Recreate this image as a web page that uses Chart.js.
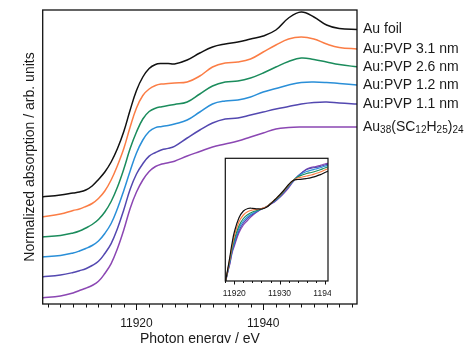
<!DOCTYPE html>
<html>
<head>
  <meta charset="UTF-8">
  <title>Au L3-edge XANES</title>
  <script src="https://cdn.jsdelivr.net/npm/chart.js"></script>
  <style>
    body {
      margin: 0;
      background: #ffffff;
    }
    .wrap {
      position: relative;
      width: 469px;
      height: 343px;
      overflow: hidden;
    }
    #insetChart {
      position: absolute;
      left: 220px;
      top: 153px;
    }
  </style>
</head>
<body>
  <div class="wrap">
    <canvas id="mainChart" width="469" height="343"></canvas>
    <canvas id="insetChart" width="111" height="160"></canvas>
  </div>

  <script>
    // photon energy (eV) for the main panel
    const energy = [11905, 11908, 11910, 11911, 11912, 11913, 11914, 11915, 11916, 11917,
      11918, 11919, 11920, 11921, 11922, 11923, 11924, 11925, 11926, 11928,
      11930, 11932, 11934, 11936, 11938, 11940, 11942, 11944, 11946, 11948,
      11950, 11952, 11955];

    // offset spectra, arb. units
    const auFoil = [107, 109, 111, 112, 114, 118, 124.5, 132, 142, 155.5,
      172.5, 194, 213.5, 227, 235.5, 239.5, 240.5, 240.5, 240, 244,
      251, 257, 260, 262, 265, 268, 274, 286, 292, 287,
      279, 275.5, 274.5];
    const pvp31 = [87, 90, 93.5, 95, 97.5, 100.5, 105.5, 113, 124, 138.5,
      155.5, 177, 196, 208.5, 215, 218.5, 220, 220.5, 221, 222,
      228, 237, 241, 242, 245, 252, 259, 265, 267, 265,
      260, 256.5, 255];
    const pvp26 = [67, 68.5, 71, 73, 76, 79.5, 84.5, 92, 102.5, 117,
      135, 155.5, 172, 185, 192.5, 195.8, 197.3, 198.5, 199.5, 202,
      210, 218, 222, 223, 226, 231, 237, 242.5, 246, 244.5,
      242, 239.5, 237];
    const pvp12 = [47, 48.5, 51, 53, 55.5, 58.5, 63, 70.5, 80.5, 95.5,
      113.5, 133, 151, 164, 172.5, 176.4, 177.5, 178.5, 180, 184,
      192, 200, 203, 204, 207, 212, 215.5, 219, 221.5, 222,
      221.5, 220.5, 219];
    const pvp11 = [27, 29, 31.5, 33.3, 35.3, 38.5, 42.7, 50.5, 60.4, 75.5,
      94.2, 114.8, 130, 140.3, 147.9, 151.5, 154.3, 155.6, 157.7, 166,
      174, 181, 185, 186, 189, 192, 195, 197.5, 200, 201.5,
      202, 201, 200];
    const au38 = [6, 8, 11, 13.5, 15.8, 18.5, 22.7, 30.5, 40.4, 55.5,
      74.2, 95.6, 112, 124, 132.5, 137.5, 140, 141.3, 142.8, 148,
      152.5, 157, 160, 163, 167, 171, 175, 176.5, 177, 177,
      177, 177, 177];

    // inset: edge region without offsets
    const insetEnergy = [11918, 11918.5, 11919, 11919.5, 11920, 11921, 11922, 11923, 11924, 11925,
      11926, 11927, 11928, 11929, 11930, 11931, 11932, 11933, 11934, 11935,
      11936, 11937, 11938, 11939, 11940, 11941];
    const insetFoil = [-2, 11, 24, 38, 49, 63, 70, 72.5, 72.7, 72.2, 72, 73.5, 77, 81.5, 86, 91,
      96.5, 100.5, 101.5, 101.8, 102.5, 103.4, 104.6, 106.4, 108.5, 110.5];
    const insetPvp31 = [-2, 10, 22, 35, 45, 59, 66, 69.5, 71, 71.5, 72.5, 74, 77.5, 81.5, 85.5, 90.5,
      96, 100.5, 103, 104, 105, 106, 107.5, 109, 111, 113];
    const insetPvp26 = [-2, 9.5, 20.5, 32.5, 41.5, 55, 62.5, 66.5, 69, 70.5, 72, 74, 77.5, 81, 85, 90,
      95.5, 100.5, 104, 106, 107.5, 108.5, 109.8, 111.3, 113, 114.5];
    const insetPvp12 = [-2, 9, 19.5, 31, 39, 52.5, 60, 64.5, 67.5, 70, 72, 74, 77.2, 80.5, 84.5, 89.5,
      95, 100, 104.5, 107.5, 109.5, 110.8, 112, 113.3, 114.8, 116];
    const insetPvp11 = [-2, 8.5, 18, 29.5, 37, 50, 58, 63, 66.5, 69.5, 72, 74, 77, 80, 84, 89,
      94.2, 99.7, 104.7, 108.5, 111.5, 112.8, 113.6, 114.7, 116, 117.3];
    const insetAu38 = [-2, 8, 17, 28, 35, 48, 56, 61, 65.5, 69, 72, 74, 76.8, 79.6, 83.5, 88,
      93.2, 99.3, 104.5, 108.5, 112, 113.6, 114.5, 115.7, 117, 118];

    const seriesNames = ['Au foil', 'Au:PVP 3.1 nm', 'Au:PVP 2.6 nm', 'Au:PVP 1.2 nm', 'Au:PVP 1.1 nm',
      'Au_{38}(SC_{12}H_{25})_{24}'];
    const mainSeries = [auFoil, pvp31, pvp26, pvp12, pvp11, au38];
    const insetSeries = [insetFoil, insetPvp31, insetPvp26, insetPvp12, insetPvp11, insetAu38];
    const colors = ['#111111', '#fb7d45', '#1b8c5c', '#2a8fd8', '#5348b0', '#8b47b3'];

    const FONT = '"Liberation Sans", Arial, Helvetica, sans-serif';
    const TEXT = '#1a1a1a';

    // draw a label, text inside _{...} becomes a subscript
    function drawRich(ctx, text, x, y) {
      text.split(/(_\{[^}]*\})/).forEach(p => {
        if (!p) return;
        const sub = p.startsWith('_{');
        const s = sub ? p.slice(2, -1) : p;
        ctx.font = (sub ? '10px ' : '14px ') + FONT;
        ctx.fillText(s, x, sub ? y + 3.5 : y);
        x += ctx.measureText(s).width;
      });
    }

    // box around the plot area + outward ticks (longer on labelled ones)
    const frameAndTicks = {
      id: 'frameAndTicks',
      beforeDraw(chart, args, opts) {
        if (!opts.fill) return;
        const a = chart.chartArea;
        chart.ctx.save();
        chart.ctx.fillStyle = opts.fill;
        chart.ctx.fillRect(a.left, a.top, a.right - a.left, a.bottom - a.top);
        chart.ctx.restore();
      },
      afterDraw(chart, args, opts) {
        const {ctx, chartArea: a, scales: {x}} = chart;
        ctx.save();
        ctx.strokeStyle = '#111';
        ctx.lineWidth = opts.lineWidth;
        ctx.strokeRect(a.left, a.top, a.right - a.left, a.bottom - a.top);
        ctx.lineWidth = 1;
        x.ticks.forEach(t => {
          const px = Math.round(x.getPixelForValue(t.value)) + 0.5;
          const len = t.value % opts.majorStep === 0 ? opts.majorLen : opts.minorLen;
          ctx.beginPath();
          ctx.moveTo(px, a.bottom);
          ctx.lineTo(px, a.bottom + len);
          ctx.stroke();
        });
        ctx.restore();
      }
    };

    const endLabels = {
      id: 'endLabels',
      afterDraw(chart) {
        const {ctx, chartArea: a, scales: {y}} = chart;
        ctx.save();
        ctx.fillStyle = TEXT;
        ctx.textAlign = 'left';
        ctx.textBaseline = 'middle';
        chart.data.datasets.forEach((ds, i) => {
          const py = y.getPixelForValue(ds.data[ds.data.length - 1].y);
          drawRich(ctx, seriesNames[i], a.right + 6, py);
        });
        ctx.restore();
      }
    };

    function makeDatasets(xs, list, width) {
      return list.map((vals, i) => ({
        label: seriesNames[i],
        data: vals.map((v, k) => ({x: xs[k], y: v})),
        borderColor: colors[i],
        borderWidth: width,
        pointRadius: 0,
        fill: false,
        tension: 0.4
      }));
    }

    // one tick every 2 eV inside the axis range
    const evenTicks = s => {
      const out = [];
      for (let v = Math.ceil(s.min / 2) * 2; v <= s.max; v += 2) out.push({ value: v });
      s.ticks = out;
    };

    new Chart(document.getElementById('mainChart'), {
      type: 'line',
      data: { datasets: makeDatasets(energy, mainSeries, 1.5) },
      options: {
        responsive: false,
        animation: false,
        layout: { padding: { top: 10, right: 112, left: 0, bottom: 0 } },
        plugins: {
          legend: { display: false },
          tooltip: { enabled: false },
          frameAndTicks: { lineWidth: 1.3, majorStep: 20, majorLen: 6, minorLen: 3.5 }
        },
        scales: {
          x: {
            type: 'linear',
            min: 11905.2,
            max: 11954.8,
            grid: { display: false, drawTicks: false },
            border: { display: false },
            afterBuildTicks: evenTicks,
            afterFit: s => { s.height = 39; s.paddingLeft = 0; s.paddingRight = 0; },
            ticks: {
              autoSkip: false,
              maxRotation: 0,
              padding: 12.3,
              color: TEXT,
              font: { family: FONT, size: 12 },
              callback: v => (v % 20 === 0 ? String(v) : '')
            },
            title: {
              display: true,
              text: 'Photon energy / eV',
              color: TEXT,
              font: { family: FONT, size: 14 },
              padding: { top: 0, bottom: -5 }
            }
          },
          y: {
            min: 0,
            max: 294,
            grid: { display: false, drawTicks: false },
            border: { display: false },
            ticks: { display: false },
            afterFit: s => { s.width = 42.7; },
            title: {
              display: true,
              text: 'Normalized absorption / arb. units',
              color: TEXT,
              font: { family: FONT, size: 14 },
              padding: { top: 21.6, bottom: 0 }
            }
          }
        }
      },
      plugins: [frameAndTicks, endLabels]
    });

    new Chart(document.getElementById('insetChart'), {
      type: 'line',
      data: { datasets: makeDatasets(insetEnergy, insetSeries, 1.2) },
      options: {
        responsive: false,
        animation: false,
        layout: { padding: { top: 5.3, right: 3, left: 5.3, bottom: 0 } },
        plugins: {
          legend: { display: false },
          tooltip: { enabled: false },
          frameAndTicks: { lineWidth: 1.2, majorStep: 10, majorLen: 3.5, minorLen: 2, fill: '#ffffff' }
        },
        scales: {
          x: {
            type: 'linear',
            min: 11918,
            max: 11940.7,
            grid: { display: false, drawTicks: false },
            border: { display: false },
            afterBuildTicks: evenTicks,
            afterFit: s => { s.height = 32; s.paddingLeft = 0; s.paddingRight = 0; },
            ticks: {
              autoSkip: false,
              maxRotation: 0,
              padding: 7.9,
              color: TEXT,
              font: { family: FONT, size: 8.5 },
              callback: v => (v % 10 === 0 ? String(v) : '')
            }
          },
          y: {
            display: false,
            min: 0,
            max: 122.7
          }
        }
      },
      plugins: [frameAndTicks]
    });
  </script>
</body>
</html>
